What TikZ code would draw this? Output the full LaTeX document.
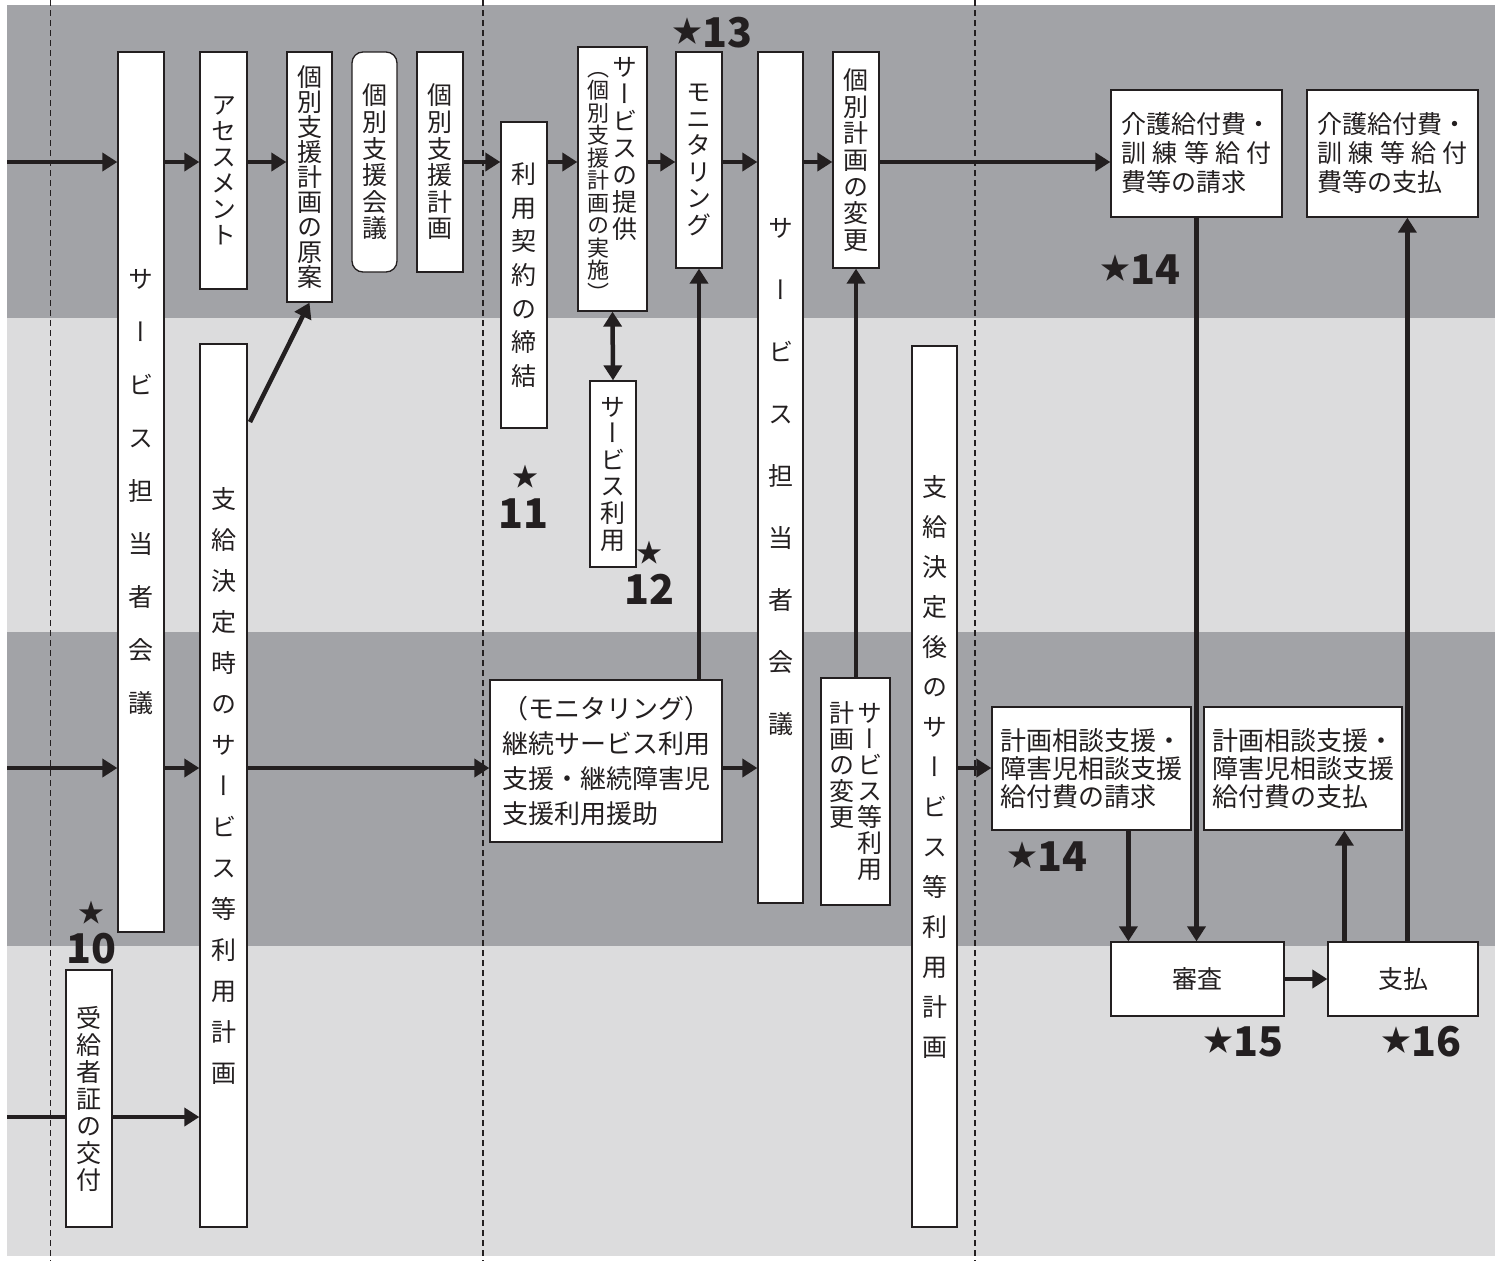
\documentclass[tikz,border=0pt]{standalone}
\usepackage{fontspec}
\setmainfont{Noto Sans CJK JP}
\newfontfamily\vfont[RawFeature={+vert}]{Noto Sans CJK JP}
\usetikzlibrary{arrows.meta,calc}
\definecolor{bandD}{RGB}{162,163,167}
\definecolor{bandL}{RGB}{220,220,221}
\definecolor{ink}{RGB}{35,31,32}
\def\vtend{VTEND}
\def\vtloop#1{\ifx\vtend#1\else\hbox to 1em{\hss#1\hss}\expandafter\vtloop\fi}
\newcommand\vt[3][0pt]{\vtop{\vfont\baselineskip=#2\relax\lineskiplimit=-100pt\lineskip=0pt\relax\vtloop#3\vtend\vskip#1\relax}}
\newcommand\strsym{\raisebox{5pt}{\fontsize{30pt}{30pt}\selectfont\mdseries ★}}
\begin{document}
\begin{tikzpicture}[x=1pt,y=-1pt,
  box/.style={draw=ink, line width=1.3pt, fill=white, inner sep=0pt, text=ink,
    font=\fontsize{25pt}{29pt}\selectfont},
  arr/.style={draw=ink, line width=4.5pt, -{Triangle[length=15pt,width=18pt]}},
  arrtwo/.style={draw=ink, line width=4.5pt, {Triangle[length=15pt,width=18pt]}-{Triangle[length=15pt,width=18pt]}},
  plain/.style={draw=ink, line width=4.5pt},
  dashline/.style={draw=ink, line width=1.3pt, dash pattern=on 6pt off 4pt},
  lbl/.style={font=\bfseries\fontsize{41pt}{41pt}\selectfont, text=ink, inner sep=0pt},
  starlbl/.style={font=\fontsize{26pt}{26pt}\selectfont, text=ink, inner sep=0pt}
]
\useasboundingbox (0,0) rectangle (1495,1261);
% bands
\fill[bandD] (7,5) rectangle (1495,318);
\fill[bandL] (7,318) rectangle (1495,632);
\fill[bandD] (7,632) rectangle (1495,946);
\fill[bandL] (7,946) rectangle (1495,1256);
% dashed separators
\draw[dashline] (50.5,0) -- (50.5,1261);
\draw[dashline] (483,0) -- (483,1261);
\draw[dashline] (975,0) -- (975,1261);

% boxes
\node[box, minimum width=46pt, minimum height=880pt] (b1) at (141,492) {\vt{53pt}{サービス担当者会議}};
\node[box, minimum width=47pt, minimum height=237pt] (asm) at (223.5,170.5) {\vt{26pt}{アセスメント}};
\node[box, minimum width=45pt, minimum height=250pt] (gen) at (309.5,177) {\vt{25pt}{個別支援計画の原案}};
\node[box, rounded corners=11pt, minimum width=45pt, minimum height=220pt] (kai) at (374.5,162) {\vt{26.6pt}{個別支援会議}};
\node[box, minimum width=46pt, minimum height=220pt] (kei) at (440,162) {\vt{26.6pt}{個別支援計画}};
\node[box, minimum width=46pt, minimum height=306pt] (kyk) at (524,275) {\vt{33.7pt}{利用契約の締結}};
\node[box, minimum width=69pt, minimum height=264pt] (tei) at (612.5,179) {{\fontsize{22pt}{22pt}\selectfont\vt{22.5pt}{（個別支援計画の実施）}}\kern3.5pt\vt{27pt}{サービスの提供}};
\node[box, minimum width=46pt, minimum height=216pt] (mon) at (699,160) {\vt{26.6pt}{モニタリング}};
\node[box, minimum width=45pt, minimum height=851pt] (b2) at (780.5,477.5) {\vt{62pt}{サービス担当者会議}};
\node[box, minimum width=46pt, minimum height=216pt] (hen) at (856,160) {\vt{26.7pt}{個別計画の変更}};
\node[box, minimum width=46pt, minimum height=186pt] (riy) at (613,474) {\vt{26.6pt}{サービス利用}};
\node[box, minimum width=47pt, minimum height=883pt] (sj) at (223.5,785.5) {\vt{41pt}{支給決定時のサービス等利用計画}};
\node[box, minimum width=46pt, minimum height=257pt] (jk) at (89,1098.5) {\vt{27pt}{受給者証の交付}};
\node[box, minimum width=232pt, minimum height=162pt, align=left,
  font=\fontsize{26pt}{35pt}\selectfont] (mbox) at (606,761)
  {（モニタリング）\\継続サービス利用\\支援・継続障害児\\支援利用援助};
\node[box, minimum width=69pt, minimum height=227pt] (hen2) at (855.5,791.5) {\vt{26pt}{計画の変更}\kern3pt\vt{26pt}{サービス等利用}};
\node[box, minimum width=45pt, minimum height=881pt] (sg) at (934.5,786.5) {\vt[40pt]{40pt}{支給決定後のサービス等利用計画}};
\node[box, minimum width=171pt, minimum height=127pt, align=left] (ks) at (1196.5,153.5)
  {介護給付費・\\\makebox[6em][s]{訓\hfill 練\hfill 等\hfill 給\hfill 付}\\費等の請求};
\node[box, minimum width=171pt, minimum height=127pt, align=left] (kp) at (1392.5,153.5)
  {介護給付費・\\\makebox[6em][s]{訓\hfill 練\hfill 等\hfill 給\hfill 付}\\費等の支払};
\node[box, minimum width=199pt, minimum height=123pt, align=left,
  font=\fontsize{26pt}{28pt}\selectfont] (ss) at (1091.5,768.5)
  {計画相談支援・\\障害児相談支援\\給付費の請求};
\node[box, minimum width=198pt, minimum height=123pt, align=left,
  font=\fontsize{26pt}{28pt}\selectfont] (sp) at (1303,768.5)
  {計画相談支援・\\障害児相談支援\\給付費の支払};
\node[box, minimum width=173pt, minimum height=74pt] (shin) at (1197.5,979) {審査};
\node[box, minimum width=150pt, minimum height=74pt] (shi) at (1403,979) {支払};

% star labels
\node[lbl] (l13) at (712,33) {\strsym\kern0pt 13};
\node[lbl] (l14a) at (1140,270) {\strsym\kern0pt 14};
\node[lbl] (l14b) at (1047,857) {\strsym\kern0pt 14};
\node[lbl] (l15) at (1243,1042) {\strsym\kern0pt 15};
\node[lbl] (l16) at (1421,1042) {\strsym\kern0pt 16};
\node[starlbl] (s10) at (91,913) {★};
\node[lbl] (l10) at (91,949) {10};
\node[starlbl] (s11) at (525,477) {★};
\node[lbl] (l11) at (523,514) {11};
\node[starlbl] (s12) at (649,553) {★};
\node[lbl] (l12) at (649,589) {12};

% connectors
\coordinate (r1) at (7,162);
\coordinate (r3) at (7,768);
\coordinate (r4) at (7,1117);
\draw[arr] (r1) -- (r1 -| b1.west);
\draw[arr] (r1 -| b1.east) -- (r1 -| asm.west);
\draw[arr] (r1 -| asm.east) -- (r1 -| gen.west);
\draw[arr] (r1 -| kei.east) -- (r1 -| kyk.west);
\draw[arr] (r1 -| kyk.east) -- (r1 -| tei.west);
\draw[arr] (r1 -| tei.east) -- (r1 -| mon.west);
\draw[arr] (r1 -| mon.east) -- (r1 -| b2.west);
\draw[arr] (r1 -| b2.east) -- (r1 -| hen.west);
\draw[arr] (r1 -| hen.east) -- (r1 -| ks.west);

\draw[arr] (r3) -- (r3 -| b1.west);
\draw[arr] (r3 -| b1.east) -- (r3 -| sj.west);
\draw[arr] (r3 -| sj.east) -- (r3 -| mbox.west);
\draw[arr] (r3 -| mbox.east) -- (r3 -| b2.west);
\draw[arr] (r3 -| sg.east) -- (r3 -| ss.west);

\draw[plain] (r4) -- (r4 -| jk.west);
\draw[arr] (r4 -| jk.east) -- (r4 -| sj.west);

\coordinate (d0) at (250,422);
\draw[arr] (d0) -- (gen.south);

\draw[arrtwo] (tei.south) -- (riy.north);
\draw[arr] (mbox.north -| mon.south) -- (mon.south);
\draw[arr] (hen2.north -| hen.south) -- (hen.south);

\draw[arr] (ks.south) -- (ks.south |- shin.north);
\coordinate (c1) at ($(shin.north west)+(18,0)$);
\draw[arr] (c1 |- ss.south) -- (c1);
\draw[arr] (shin.east) -- (shi.west);
\coordinate (c2) at ($(shi.north west)+(17,0)$);
\draw[arr] (c2) -- (c2 |- sp.south);
\coordinate (c3) at ($(shi.north west)+(80,0)$);
\draw[arr] (c3) -- (c3 |- kp.south);
\end{tikzpicture}
\end{document}
